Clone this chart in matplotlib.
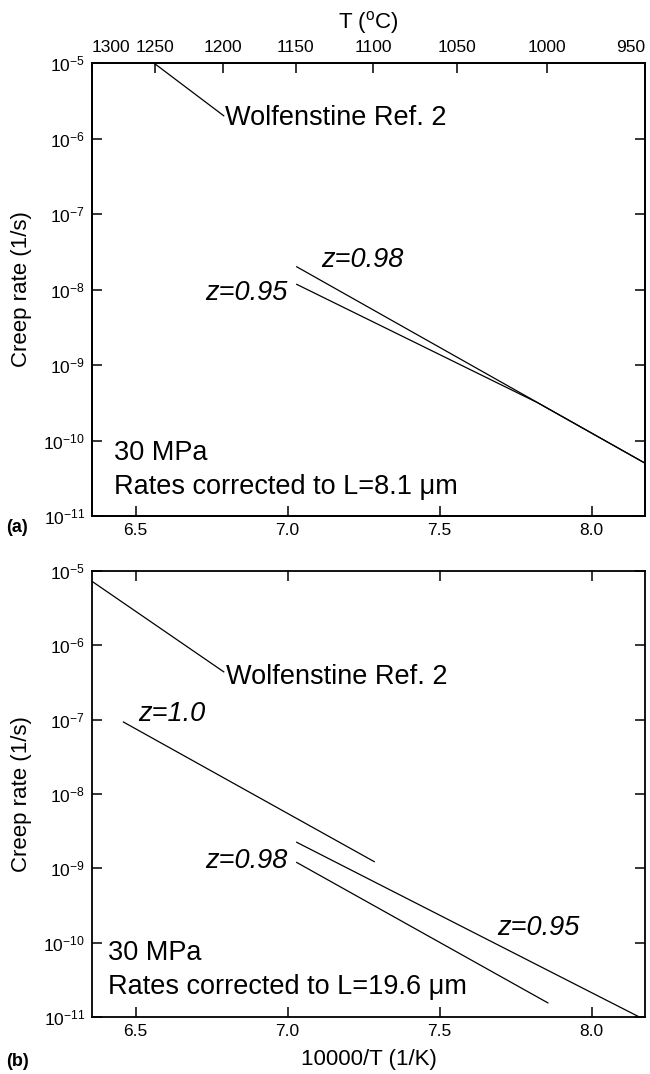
import numpy as np
import matplotlib
matplotlib.use("Agg")
import matplotlib.pyplot as plt
from matplotlib.ticker import NullLocator, FixedLocator

# -------------------------- SETTINGS ----------------------------
WIDTH = 6.5   # inches
HEIGHT = 10.74
DPI = 100

plt.rcParams["font.family"] = ["Liberation Sans", "DejaVu Sans"]
plt.rcParams["mathtext.fontset"] = "custom"
plt.rcParams["mathtext.rm"] = "Liberation Sans"
plt.rcParams["mathtext.it"] = "Liberation Sans:italic"

TICK_FS = 12.5
LABEL_FS = 16
NOTE_FS = 19.5

# ---------------------------- DATA ------------------------------
# x is 10000/T (1/K), rates in 1/s
temp_c = [1300, 1250, 1200, 1150, 1100, 1050, 1000, 950]
decades = [1e-11, 1e-10, 1e-9, 1e-8, 1e-7, 1e-6, 1e-5]
decade_labels = [r"$10^{-11}$", r"$10^{-10}$", r"$10^{-9}$", r"$10^{-8}$",
                 r"$10^{-7}$", r"$10^{-6}$", r"$10^{-5}$"]
x_ticks = [6.5, 7.0, 7.5, 8.0]

# panel (a), L = 8.1 um
a_wolf_x = [6.56, 6.79]
a_wolf_rate = [1.0e-5, 2.0e-6]
a_z098_x = [7.03, 8.176]
a_z098_rate = [2.0e-8, 5.0e-11]
a_z095_x = [7.03, 7.82, 8.176]
a_z095_rate = [1.17e-8, 3.2e-10, 5.0e-11]

# panel (b), L = 19.6 um
b_wolf_x = [6.358, 6.79]
b_wolf_rate = [7.2e-6, 4.4e-7]
b_z100_x = [6.46, 7.285]
b_z100_rate = [9.3e-8, 1.23e-9]
b_z095_x = [7.03, 8.157]
b_z095_rate = [2.24e-9, 1.0e-11]
b_z098_x = [7.03, 7.856]
b_z098_rate = [1.2e-9, 1.55e-11]


def c_to_inv_k(c):
    return 10000.0 / (np.asarray(c, dtype=float) + 273.15)


XLIM = (float(c_to_inv_k(temp_c[0])), float(c_to_inv_k(temp_c[-1])))


def style_axis(ax):
    ax.set_yscale("log")
    ax.set_xlim(*XLIM)
    ax.set_ylim(1e-11, 1e-5)
    ax.yaxis.set_major_locator(FixedLocator(decades))
    ax.set_yticklabels(decade_labels)
    ax.yaxis.set_minor_locator(NullLocator())
    ax.xaxis.set_minor_locator(NullLocator())
    ax.set_xticks(x_ticks)
    ax.set_xticklabels(["%.1f" % v for v in x_ticks])
    ax.tick_params(direction="in", length=7, width=1.1, labelsize=TICK_FS,
                   right=True, pad=5)
    for s in ax.spines.values():
        s.set_linewidth(1.3)
    ax.set_ylabel("Creep rate (1/s)", fontsize=LABEL_FS)
    ax.yaxis.set_label_coords(-0.108, 0.5)


fig = plt.figure(figsize=(WIDTH, HEIGHT), dpi=DPI)
ax_a = fig.add_axes([92 / 650, 1 - 516 / 1074, 553 / 650, 453 / 1074])
ax_b = fig.add_axes([92 / 650, 1 - 1017 / 1074, 553 / 650, 446 / 1074])

line_kw = dict(color="black", lw=0.9)

# --------------------------- PANEL (a) ---------------------------
style_axis(ax_a)
ax_a.tick_params(top=False)
ax_a.plot(a_wolf_x, a_wolf_rate, **line_kw)
ax_a.plot(a_z098_x, a_z098_rate, **line_kw)
ax_a.plot(a_z095_x, a_z095_rate, **line_kw)

ax_a.text(6.795, 10 ** -5.73, "Wolfenstine Ref. 2", fontsize=NOTE_FS, va="center")
ax_a.text(7.11, 10 ** -7.61, "z=0.98", fontsize=NOTE_FS, style="italic", va="center")
ax_a.text(7.0, 10 ** -8.05, "z=0.95", fontsize=NOTE_FS, style="italic",
          va="center", ha="right")
ax_a.text(6.43, 10 ** -10.17, "30 MPa", fontsize=NOTE_FS, va="center")
ax_a.text(6.43, 10 ** -10.62, "Rates corrected to L=8.1 \u03bcm",
          fontsize=NOTE_FS, va="center")

top = ax_a.twiny()
top.set_xlim(*XLIM)
top.set_xticks(c_to_inv_k(temp_c))
top.set_xticklabels([str(c) for c in temp_c])
top.xaxis.set_minor_locator(NullLocator())
top.tick_params(direction="in", length=7, width=1.1, labelsize=TICK_FS, pad=6)
tl = top.get_xticklabels()
tl[0].set_ha("left")
tl[-1].set_ha("right")
top.set_xlabel(r"T ($^{\rm o}$C)", fontsize=LABEL_FS, labelpad=8)
for s in top.spines.values():
    s.set_linewidth(1.3)

fig.text(6 / 650, 1 - 528 / 1074, "(a)", fontsize=13, fontweight="bold", va="center")

# --------------------------- PANEL (b) ---------------------------
style_axis(ax_b)
ax_b.tick_params(top=True)
ax_b.plot(b_wolf_x, b_wolf_rate, **line_kw)
ax_b.plot(b_z100_x, b_z100_rate, **line_kw)
ax_b.plot(b_z095_x, b_z095_rate, **line_kw)
ax_b.plot(b_z098_x, b_z098_rate, **line_kw)

ax_b.text(6.797, 10 ** -6.43, "Wolfenstine Ref. 2", fontsize=NOTE_FS, va="center")
ax_b.text(6.51, 10 ** -6.93, "z=1.0", fontsize=NOTE_FS, style="italic", va="center")
ax_b.text(7.0, 10 ** -8.9, "z=0.98", fontsize=NOTE_FS, style="italic",
          va="center", ha="right")
ax_b.text(7.69, 10 ** -9.8, "z=0.95", fontsize=NOTE_FS, style="italic", va="center")
ax_b.text(6.41, 10 ** -10.14, "30 MPa", fontsize=NOTE_FS, va="center")
ax_b.text(6.41, 10 ** -10.59, "Rates corrected to L=19.6 \u03bcm",
          fontsize=NOTE_FS, va="center")

ax_b.set_xlabel("10000/T (1/K)", fontsize=LABEL_FS)
ax_b.xaxis.set_label_coords(0.5, -0.072)

fig.text(6 / 650, 1 - 1062 / 1074, "(b)", fontsize=13, fontweight="bold", va="center")

fig.savefig("out.png", dpi=DPI)
